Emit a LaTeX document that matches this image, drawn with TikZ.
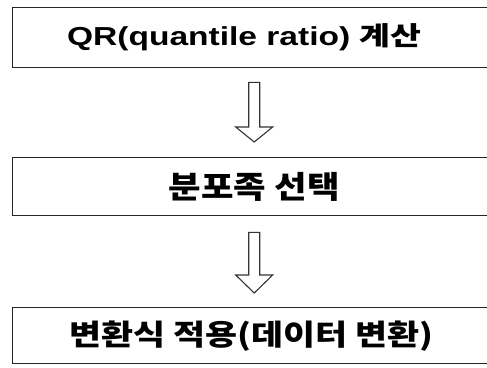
\documentclass[tikz,border=0pt]{standalone}
\usepackage{fontspec}
\setmainfont{Liberation Sans}
\newfontfamily\kr{Noto Sans CJK KR}
\usetikzlibrary{calc}
\begin{document}
\begin{tikzpicture}[x=1pt,y=-1pt,
  box/.style={draw=black!85, line width=1.4pt, minimum width=483pt, minimum height=#1,
              inner sep=0pt, anchor=north west, text=black},
  hollow/.style={draw=black!80, line width=1.1pt, fill=white, line join=miter}]
\useasboundingbox (0,0) rectangle (487,367);
\clip (0,0) rectangle (487,367);
\fill[white] (0,0) rectangle (487,367);

\node[box=60pt] (b1) at (12,7)
  {\hspace*{-20pt}\scalebox{1.29}[1]{\fontsize{26}{30}\selectfont\bfseries QR(quantile ratio) {\kr 계산}}};
\node[box=58pt] (b2) at (12,157)
  {\scalebox{1.14}[1]{\fontsize{31}{34}\selectfont\kr\bfseries 분포족 선택}};
\node[box=56pt] (b3) at (12,307)
  {\hspace*{-6pt}\scalebox{1.2}[1]{\fontsize{29}{32}\selectfont\kr\bfseries 변환식 적용(데이터 변환)}};

% hollow block arrows between boxes
\coordinate (a1t) at ($(b1.south)+(0,14)$);
\coordinate (a1h) at ($(b2.north)+(0,-30)$);
\coordinate (a1e) at ($(b2.north)+(0,-15)$);
\draw[hollow] ($(a1t)+(-5.5,0)$) -- ($(a1t)+(5.5,0)$) -- ($(a1h)+(5.5,0)$) -- ($(a1h)+(18.5,0)$)
  -- (a1e) -- ($(a1h)+(-18.5,0)$) -- ($(a1h)+(-5.5,0)$) -- cycle;

\coordinate (a2t) at ($(b2.south)+(0,16)$);
\coordinate (a2h) at ($(b3.north)+(0,-32)$);
\coordinate (a2e) at ($(b3.north)+(0,-14)$);
\draw[hollow] ($(a2t)+(-5.5,0)$) -- ($(a2t)+(5.5,0)$) -- ($(a2h)+(5.5,0)$) -- ($(a2h)+(18.5,0)$)
  -- (a2e) -- ($(a2h)+(-18.5,0)$) -- ($(a2h)+(-5.5,0)$) -- cycle;
\end{tikzpicture}
\end{document}
